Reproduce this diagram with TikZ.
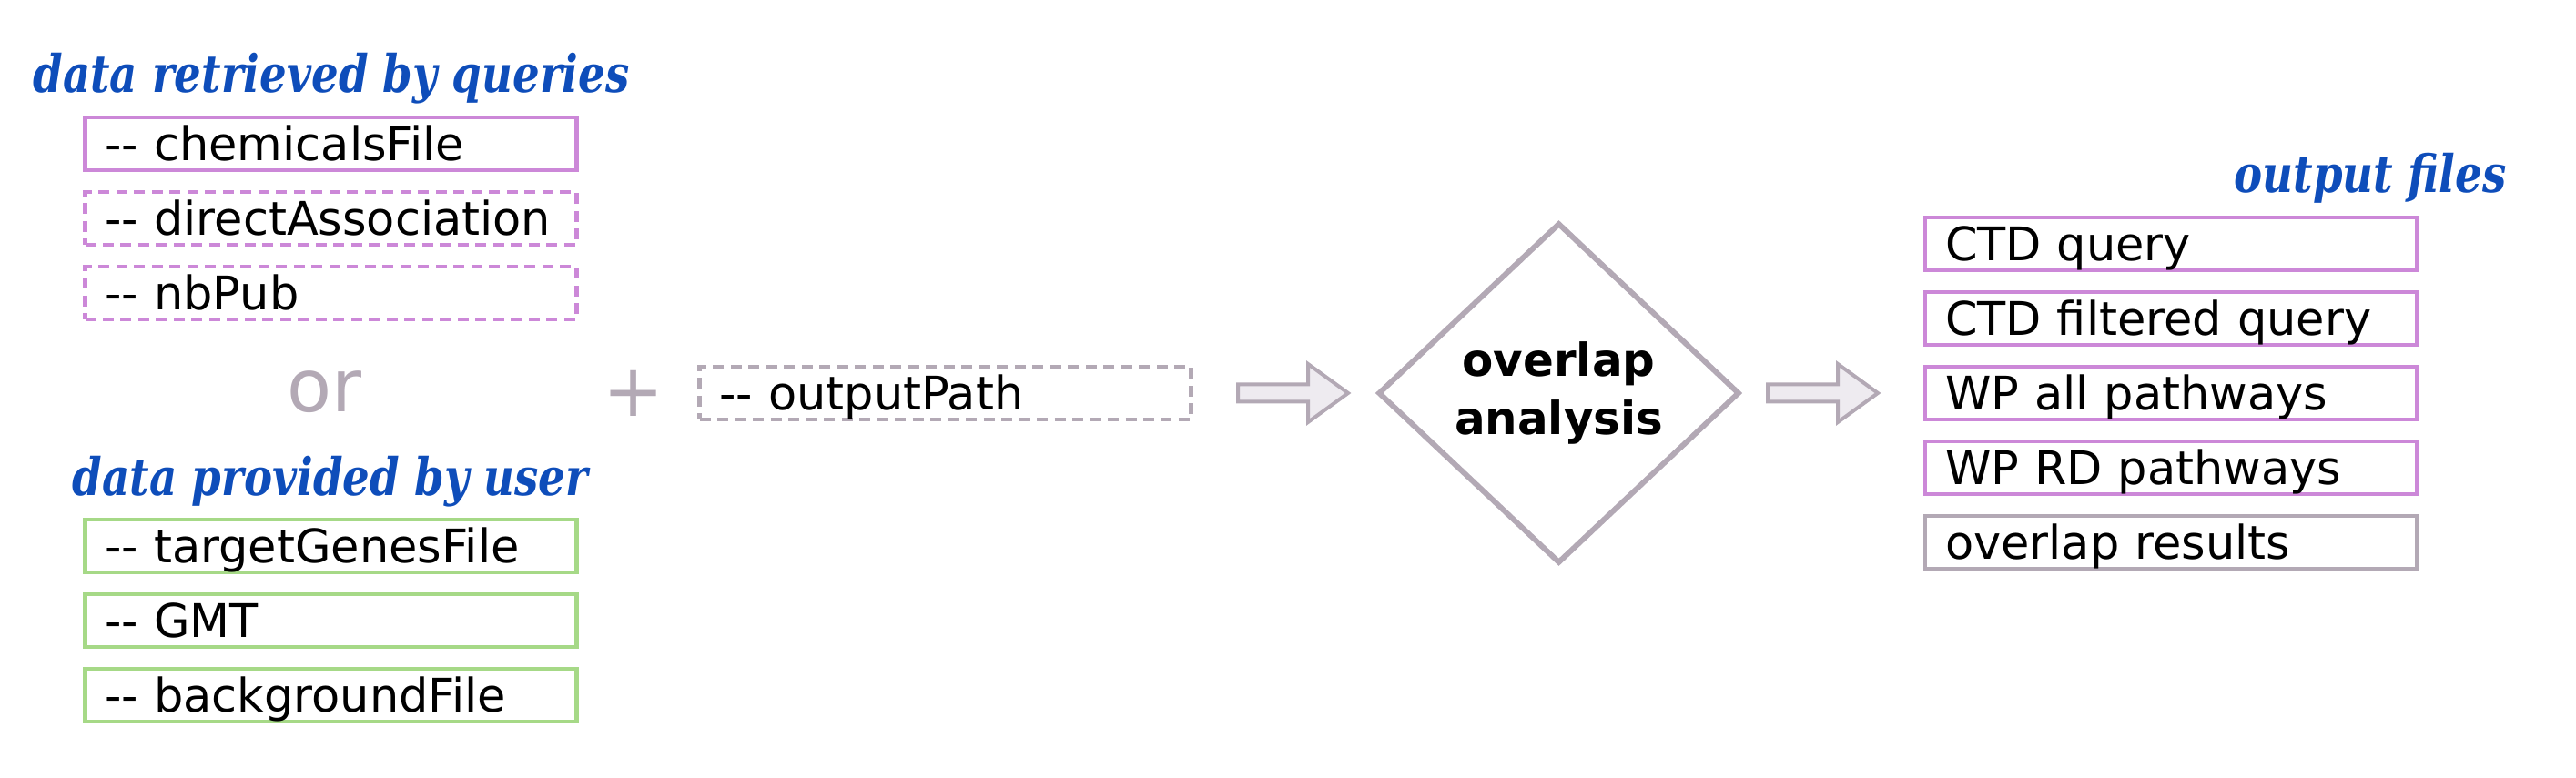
\documentclass[tikz,border=0pt]{standalone}
\usepackage{fontspec}
\usetikzlibrary{shapes.geometric}
\newfontfamily\dejavu{DejaVu Sans}
\newfontfamily\dejavuserif[FakeStretch=0.82]{DejaVu Serif}
\definecolor{querypurple}{RGB}{204,136,216}
\definecolor{usergreen}{RGB}{166,217,135}
\definecolor{flowgray}{RGB}{179,169,181}
\definecolor{arrowfill}{RGB}{238,235,240}
\definecolor{titleblue}{RGB}{14,77,186}
\tikzset{
  filebox/.style={draw, line width=0.043cm, minimum width=5.40cm, minimum height=0.57cm,
    inner xsep=0.22cm, inner ysep=0pt, text width=4.96cm, align=left,
    text height=0.48cm, text depth=0.1cm, font=\dejavu\fontsize{14.5}{17}\selectfont},
  querybox/.style={filebox, draw=querypurple},
  userbox/.style={filebox, draw=usergreen},
  optbox/.style={filebox, dashed, dash pattern=on 0.12cm off 0.075cm},
  grouptitle/.style={inner sep=0pt, text=titleblue, font=\dejavuserif\bfseries\itshape\fontsize{16.2}{19}\selectfont},
  bigsign/.style={inner sep=0pt, text=flowgray, font=\dejavu\fontsize{22.8}{26}\selectfont},
  fatarrow/.pic={
    \draw [draw=flowgray, fill=arrowfill, line width=0.04cm]
      (0,0.095) -- (0.77,0.095) -- (0.77,0.32) -- (1.21,0) -- (0.77,-0.32)
      -- (0.77,-0.095) -- (0,-0.095) -- cycle;
  }
}
\begin{document}
\begin{tikzpicture}
                        \useasboundingbox (0,0) rectangle (28.30,8.55);

                        % Drawing group titles
                        \node [grouptitle, anchor=base] (queriestitle) at (3.64,7.53) {data retrieved by queries};%
                        \node [grouptitle, anchor=base] (usertitle) at (3.63,3.10) {data provided by user};%
                        \node [grouptitle, anchor=base east] (outputtitle) at (27.54,6.43) {output files};%

                        % Drawing query boxes
                        \node [querybox] (chemfile) at (3.635,6.97) {-- chemicalsFile};%
                        \node [querybox, optbox] (directassoc) at (3.635,6.15) {-- directAssociation};%
                        \node [querybox, optbox] (nbpub) at (3.635,5.33) {-- nbPub};%

                        % Marking or / +
                        \node [bigsign, anchor=base] (ortext) at (3.56,4.02) {or};%
                        \node [bigsign] (plustext) at (6.96,4.23) {+};%

                        % Drawing user boxes
                        \node [userbox] (targetgenes) at (3.635,2.55) {-- targetGenesFile};%
                        \node [userbox] (gmt) at (3.635,1.73) {-- GMT};%
                        \node [userbox] (background) at (3.635,0.91) {-- backgroundFile};%

                        % Drawing output path box
                        \node [filebox, optbox, draw=flowgray] (outputpath) at (10.385,4.23) {-- outputPath};%

                        % Drawing arrows and analysis step
                        \pic at (13.60,4.23) {fatarrow};%
                        \node [diamond, draw=flowgray, line width=0.06cm, minimum width=3.97cm, minimum height=3.74cm,
                               inner sep=0pt, align=center, font=\dejavu\bfseries\fontsize{14.2}{18.2}\selectfont]
                               (analysis) at (17.125,4.23) {overlap\\analysis};%
                        \pic at (19.42,4.23) {fatarrow};%

                        % Drawing output boxes
                        \node [querybox] (ctdquery) at (23.85,5.87) {CTD query};%
                        \node [querybox] (ctdfiltered) at (23.85,5.05) {CTD filtered query};%
                        \node [querybox] (wpall) at (23.85,4.23) {WP all pathways};%
                        \node [querybox] (wprd) at (23.85,3.41) {WP RD pathways};%
                        \node [filebox, draw=flowgray] (overlapres) at (23.85,2.59) {overlap results};%
                    \end{tikzpicture}
\end{document}
